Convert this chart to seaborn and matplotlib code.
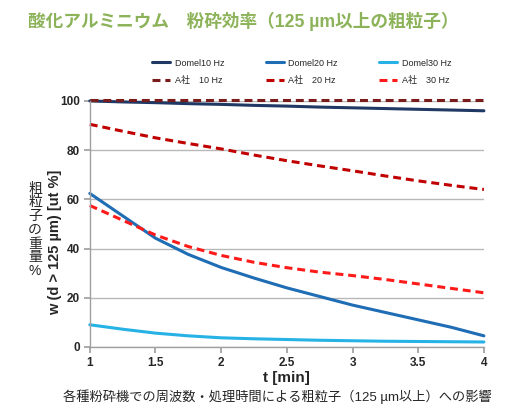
import numpy as np
import pandas as pd
import matplotlib
matplotlib.use("Agg")
import matplotlib.pyplot as plt
import seaborn as sns

# ---- data ----
t_min = [1.0, 1.25, 1.5, 1.75, 2.0, 2.25, 2.5, 2.75, 3.0, 3.25, 3.5, 3.75, 4.0]
domel_10 = [100.0, 99.6, 99.3, 98.9, 98.6, 98.2, 97.9, 97.5, 97.2, 96.9, 96.6, 96.3, 96.0]
domel_20 = [62.4, 53.3, 44.2, 37.6, 32.3, 28.0, 24.0, 20.5, 17.0, 14.0, 11.0, 8.0, 4.5]
domel_30 = [9.0, 7.2, 5.6, 4.5, 3.7, 3.3, 3.0, 2.7, 2.5, 2.3, 2.2, 2.1, 2.0]
a_10 = [100.2, 100.2, 100.2, 100.2, 100.2, 100.2, 100.2, 100.2, 100.2, 100.2, 100.2, 100.2, 100.2]
a_20 = [90.5, 87.7, 85.0, 82.7, 80.5, 78.0, 75.7, 73.6, 71.6, 69.5, 67.5, 65.7, 64.0]
a_30 = [57.5, 51.5, 45.5, 40.8, 37.2, 34.4, 32.2, 30.4, 29.0, 27.4, 25.6, 23.8, 22.0]

labels = ["Domel10 Hz", "Domel20 Hz", "Domel30 Hz", "A社　10 Hz", "A社　20 Hz", "A社　30 Hz"]
series = [domel_10, domel_20, domel_30, a_10, a_20, a_30]
y_ticks = [0, 20, 40, 60, 80, 100]
x_ticks = [1, 1.5, 2, 2.5, 3, 3.5, 4]
x_ticklabels = ["1", "1.5", "2", "2.5", "3", "3.5", "4"]

title = "酸化アルミニウム　粉砕効率（125 µm以上の粗粒子）"
ylabel_jp = "粗粒子の重量%"
ylabel_en = "w (d > 125 µm) [ut %]"
xlabel = "t [min]"
caption = "各種粉砕機での周波数・処理時間による粗粒子（125 µm以上）への影響"

colors = ["#1f3864", "#1f6db4", "#27b2e6", "#7b1c1c", "#c00000", "#ff1a1a"]
dashed = [False, False, False, True, True, True]

sns.set_theme(style="white")
plt.rcParams["font.family"] = ["Liberation Sans", "Noto Sans CJK JP", "DejaVu Sans"]

fig = plt.figure(figsize=(5.22, 4.12), dpi=100)
ax = fig.add_axes([0.172, 0.158, 0.755, 0.597])

rows = []
for lab, vals in zip(labels, series):
    for t, v in zip(t_min, vals):
        rows.append({"t": t, "w": v, "series": lab})
df = pd.DataFrame(rows)

handles = []
for lab, col, dsh in zip(labels, colors, dashed):
    sub = df[df["series"] == lab]
    sns.lineplot(data=sub, x="t", y="w", ax=ax, color=col, linewidth=2.2,
                 label=lab, legend=False)
    ln = ax.get_lines()[-1]
    ln.set_clip_on(False)
    ln.set_solid_joinstyle("round")
    if dsh:
        ln.set_dashes((2.6, 1.6))
    handles.append(ln)

ax.set_xlim(1, 4)
ax.set_ylim(0, 100)
ax.set_yticks(y_ticks)
ax.set_xticks(x_ticks)
ax.set_xticklabels(x_ticklabels)
ax.grid(axis="y", color="#b8b8b8", linewidth=1)
ax.grid(axis="x", visible=False)
for s in ["top", "right"]:
    ax.spines[s].set_visible(False)
for s in ["left", "bottom"]:
    ax.spines[s].set_color("#a0a0a0")
    ax.spines[s].set_linewidth(1)
ax.tick_params(axis="both", which="both", length=4, color="#a0a0a0",
               labelsize=8.5, pad=3, direction="out", left=True, bottom=True)
for lbl in ax.get_xticklabels() + ax.get_yticklabels():
    lbl.set_fontweight("bold")

ax.set_xlabel(xlabel, fontsize=11, fontweight="bold", labelpad=2)
ax.set_ylabel("")
fig.text(0.067, 0.442, "\n".join(ylabel_jp), ha="center", va="center",
         fontsize=10, linespacing=0.98)
fig.text(0.105, 0.413, ylabel_en, rotation=90, ha="center", va="center",
         fontsize=10.5, fontweight="bold")

fig.text(0.054, 0.948, title, ha="left", va="center", fontsize=12.7,
         color="#8db35a", fontweight="bold")
fig.text(0.531, 0.037, caption, ha="center", va="center", fontsize=9.5)

# legend in 2 rows x 3 columns
order = [0, 3, 1, 4, 2, 5]
leg = fig.legend([handles[i] for i in order], [labels[i] for i in order],
                 loc="center", bbox_to_anchor=(0.578, 0.826), ncol=3, frameon=False,
                 fontsize=6.5, handlelength=2.0, columnspacing=4.6, labelspacing=0.9,
                 handletextpad=0.5)

fig.savefig("out.png", dpi=100)
